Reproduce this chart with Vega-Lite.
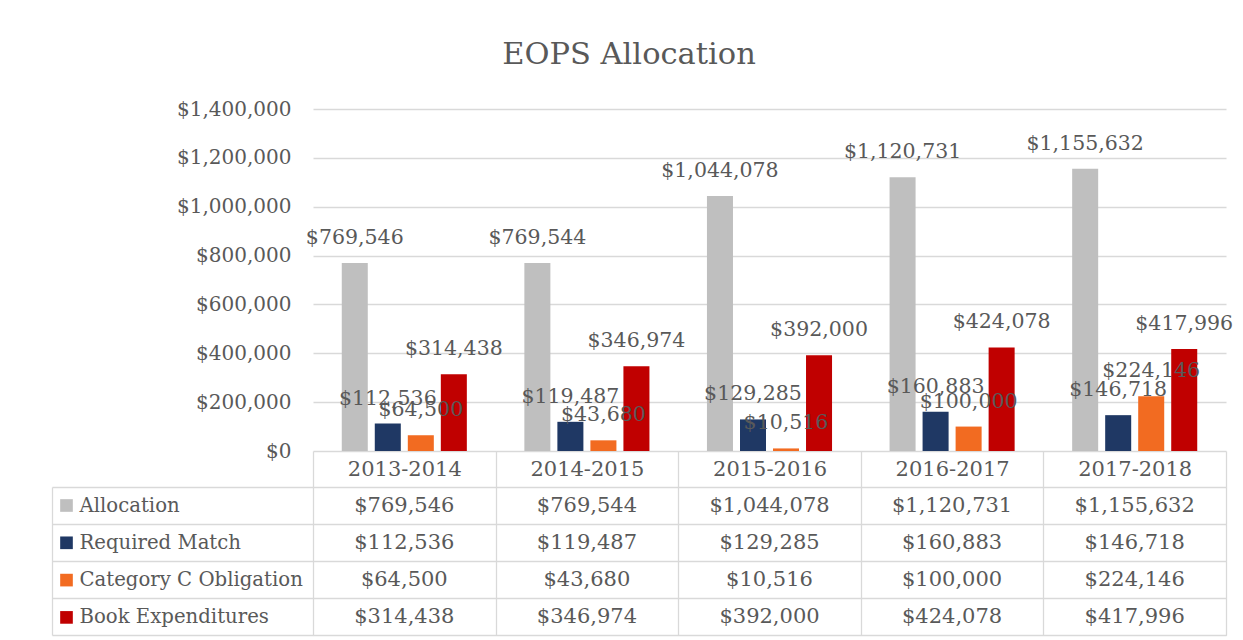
{
  "$schema": "https://vega.github.io/schema/vega-lite/v6.json",
  "padding": {"left": 50, "top": 39, "right": 10, "bottom": 5},
  "background": "white",
  "config": {
    "font": "DejaVu Serif",
    "view": {"stroke": null},
    "axis": {"labelFont": "DejaVu Serif", "labelColor": "#595959"}
  },
  "title": {"text": "EOPS Allocation", "fontSize": 30.5, "font": "DejaVu Serif", "fontWeight": "normal", "color": "#595959", "anchor": "middle", "frame": "bounds", "offset": 29, "dx": -13},
  "datasets": {
    "eops": [
      {"year": "2013-2014", "series": "Allocation", "value": 769546},
      {"year": "2014-2015", "series": "Allocation", "value": 769544},
      {"year": "2015-2016", "series": "Allocation", "value": 1044078},
      {"year": "2016-2017", "series": "Allocation", "value": 1120731},
      {"year": "2017-2018", "series": "Allocation", "value": 1155632},
      {"year": "2013-2014", "series": "Required Match", "value": 112536},
      {"year": "2014-2015", "series": "Required Match", "value": 119487},
      {"year": "2015-2016", "series": "Required Match", "value": 129285},
      {"year": "2016-2017", "series": "Required Match", "value": 160883},
      {"year": "2017-2018", "series": "Required Match", "value": 146718},
      {"year": "2013-2014", "series": "Category C Obligation", "value": 64500},
      {"year": "2014-2015", "series": "Category C Obligation", "value": 43680},
      {"year": "2015-2016", "series": "Category C Obligation", "value": 10516},
      {"year": "2016-2017", "series": "Category C Obligation", "value": 100000},
      {"year": "2017-2018", "series": "Category C Obligation", "value": 224146},
      {"year": "2013-2014", "series": "Book Expenditures", "value": 314438},
      {"year": "2014-2015", "series": "Book Expenditures", "value": 346974},
      {"year": "2015-2016", "series": "Book Expenditures", "value": 392000},
      {"year": "2016-2017", "series": "Book Expenditures", "value": 424078},
      {"year": "2017-2018", "series": "Book Expenditures", "value": 417996}
    ]
  },
  "bounds": "flush",
  "spacing": 36,
  "vconcat": [
    {
      "width": 913,
      "height": 342,
      "data": {"name": "eops"},
      "encoding": {
        "x": {"field": "year", "type": "nominal", "scale": {"paddingInner": 0.315, "paddingOuter": 0.1575}, "axis": null},
        "xOffset": {"field": "series", "type": "nominal", "sort": ["Allocation", "Required Match", "Category C Obligation", "Book Expenditures"], "scale": {"paddingInner": 0.212, "paddingOuter": 0}},
        "y": {"field": "value", "type": "quantitative", "scale": {"domain": [0, 1400000], "nice": false},
          "axis": {"values": [0, 200000, 400000, 600000, 800000, 1000000, 1200000, 1400000], "format": "$,.0f", "title": null, "domain": false, "ticks": false, "labelPadding": 22, "labelFontSize": 20, "gridColor": "#d9d9d9", "gridWidth": 1.3}}
      },
      "layer": [
        {
          "mark": {"type": "bar"},
          "encoding": {
            "color": {"field": "series", "type": "nominal",
              "scale": {"domain": ["Allocation", "Required Match", "Category C Obligation", "Book Expenditures"], "range": ["#BFBFBF", "#1F3864", "#F26B21", "#C00000"]},
              "legend": {"orient": "none", "legendX": -253, "legendY": 390, "title": null, "symbolType": "square", "symbolSize": 160, "symbolStrokeWidth": 0, "labelFontSize": 1, "labelOpacity": 0, "rowPadding": 24.3, "padding": 0}}
          }
        },
        {
          "mark": {"type": "text", "baseline": "middle", "dy": -25, "fontSize": 20.5, "color": "#595959"},
          "encoding": {"text": {"field": "value", "type": "quantitative", "format": "$,.0f"}}
        }
      ]
    },
    {
      "width": 913,
      "height": 148,
      "view": {"stroke": "#d9d9d9"},
      "data": {"name": "eops"},
      "mark": {"type": "text", "fontSize": 21, "color": "#595959", "baseline": "middle"},
      "encoding": {
        "x": {"field": "year", "type": "nominal", "scale": {"paddingInner": 0, "paddingOuter": 0},
          "axis": {"orient": "top", "title": null, "tickBand": "extent", "tickSize": 36, "tickColor": "#d9d9d9", "tickWidth": 1.3, "domain": false, "labelPadding": -18, "labelBaseline": "middle", "labelAngle": 0, "labelFontSize": 21, "grid": true, "gridColor": "#d9d9d9", "gridWidth": 1.3}},
        "y": {"field": "series", "type": "nominal", "sort": ["Allocation", "Required Match", "Category C Obligation", "Book Expenditures"], "scale": {"paddingInner": 0, "paddingOuter": 0},
          "axis": {"title": null, "offset": 261, "tickSize": -261, "tickBand": "extent", "tickColor": "#d9d9d9", "tickWidth": 1.3, "domainColor": "#d9d9d9", "domainWidth": 1.3, "labelAlign": "left", "labelPadding": 234, "labelLimit": 0, "labelFontSize": 19.7, "grid": true, "gridColor": "#d9d9d9", "gridWidth": 1.3}},
        "text": {"field": "value", "type": "quantitative", "format": "$,.0f"}
      }
    }
  ]
}
